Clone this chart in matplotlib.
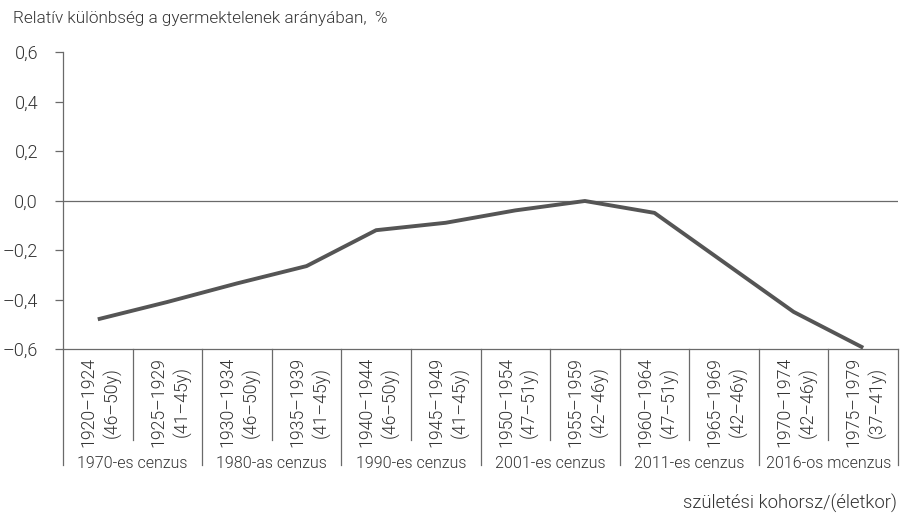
#!/usr/bin/env python3
"""Relative childlessness difference by birth cohort, census groups below the axis."""

import matplotlib

matplotlib.use('Agg')
import matplotlib.pyplot as plt
import matplotlib.transforms as mtransforms
from matplotlib.ticker import FuncFormatter

cohorts = ['1920–1924', '1925–1929', '1930–1934', '1935–1939', '1940–1944', '1945–1949',
           '1950–1954', '1955–1959', '1960–1964', '1965–1969', '1970–1974', '1975–1979']
ages = ['(46–50y)', '(41–45y)', '(46–50y)', '(41–45y)', '(46–50y)', '(41–45y)',
        '(47–51y)', '(42–46y)', '(47–51y)', '(42–46y)', '(42–46y)', '(37–41y)']
censuses = ['1970-es cenzus', '1980-as cenzus', '1990-es cenzus',
            '2001-es cenzus', '2011-es cenzus', '2016-os mcenzus']
values = [-0.48, -0.41, -0.335, -0.265, -0.12, -0.09,
          -0.04, -0.002, -0.05, -0.25, -0.45, -0.595]

TEXT = '#333333'
GRID = '#6a6a6a'
plt.rcParams['font.family'] = ['Roboto', 'DejaVu Sans']
plt.rcParams['font.weight'] = 300
plt.rcParams['text.color'] = TEXT

fig = plt.figure(figsize=(9, 5.18), dpi=100)
ax = fig.add_axes([63 / 900, 1 - 349 / 518, (898 - 63) / 900, (349 - 52) / 518])

n = len(cohorts)
xs = [i + 0.5 for i in range(n)]
ax.plot(xs, values, color='#555555', lw=2.8, solid_capstyle='butt', zorder=3)
ax.axhline(0, color=GRID, lw=0.9, zorder=2)

ax.set_xlim(0, n)
ax.set_ylim(-0.6, 0.6)
for side in ('top', 'right'):
    ax.spines[side].set_visible(False)
for side in ('left', 'bottom'):
    ax.spines[side].set_color(GRID)
    ax.spines[side].set_linewidth(0.9)

ax.set_yticks([-0.6, -0.4, -0.2, 0.0, 0.2, 0.4, 0.6])
ax.yaxis.set_major_formatter(FuncFormatter(lambda v, _: f'{v:.1f}'.replace('.', ',').replace('-', '–')))
ax.tick_params(axis='y', length=6, width=0.9, color=GRID, pad=12, labelsize=13, labelcolor=TEXT)
ax.set_xticks([])

# category separators and labels below the axis
trans = mtransforms.blended_transform_factory(ax.transData, ax.transAxes)
for b in range(n + 1):
    bottom = -0.39 if b % 2 == 0 else -0.306
    ax.plot([b, b], [0, bottom], transform=trans, color=GRID, lw=0.9, clip_on=False)
for i in range(n):
    ax.text(xs[i] + 0.04, -0.027, f'{cohorts[i]}\n{ages[i]}', transform=trans, rotation=90,
            ha='center', va='top', fontsize=12.8, linespacing=1.35)
for g, name in enumerate(censuses):
    ax.text(2 * g + 1, -0.387, name, transform=trans, ha='center', va='center', fontsize=11.5)

fig.text(13 / 900, 1 - 18 / 518, 'Relatív különbség a gyermektelenek arányában,  %',
         ha='left', va='center', fontsize=12.3)
fig.text(897 / 900, 1 - 503 / 518, 'születési kohorsz/(életkor)',
         ha='right', va='center', fontsize=13.3)

fig.savefig('out.png', dpi=100)
